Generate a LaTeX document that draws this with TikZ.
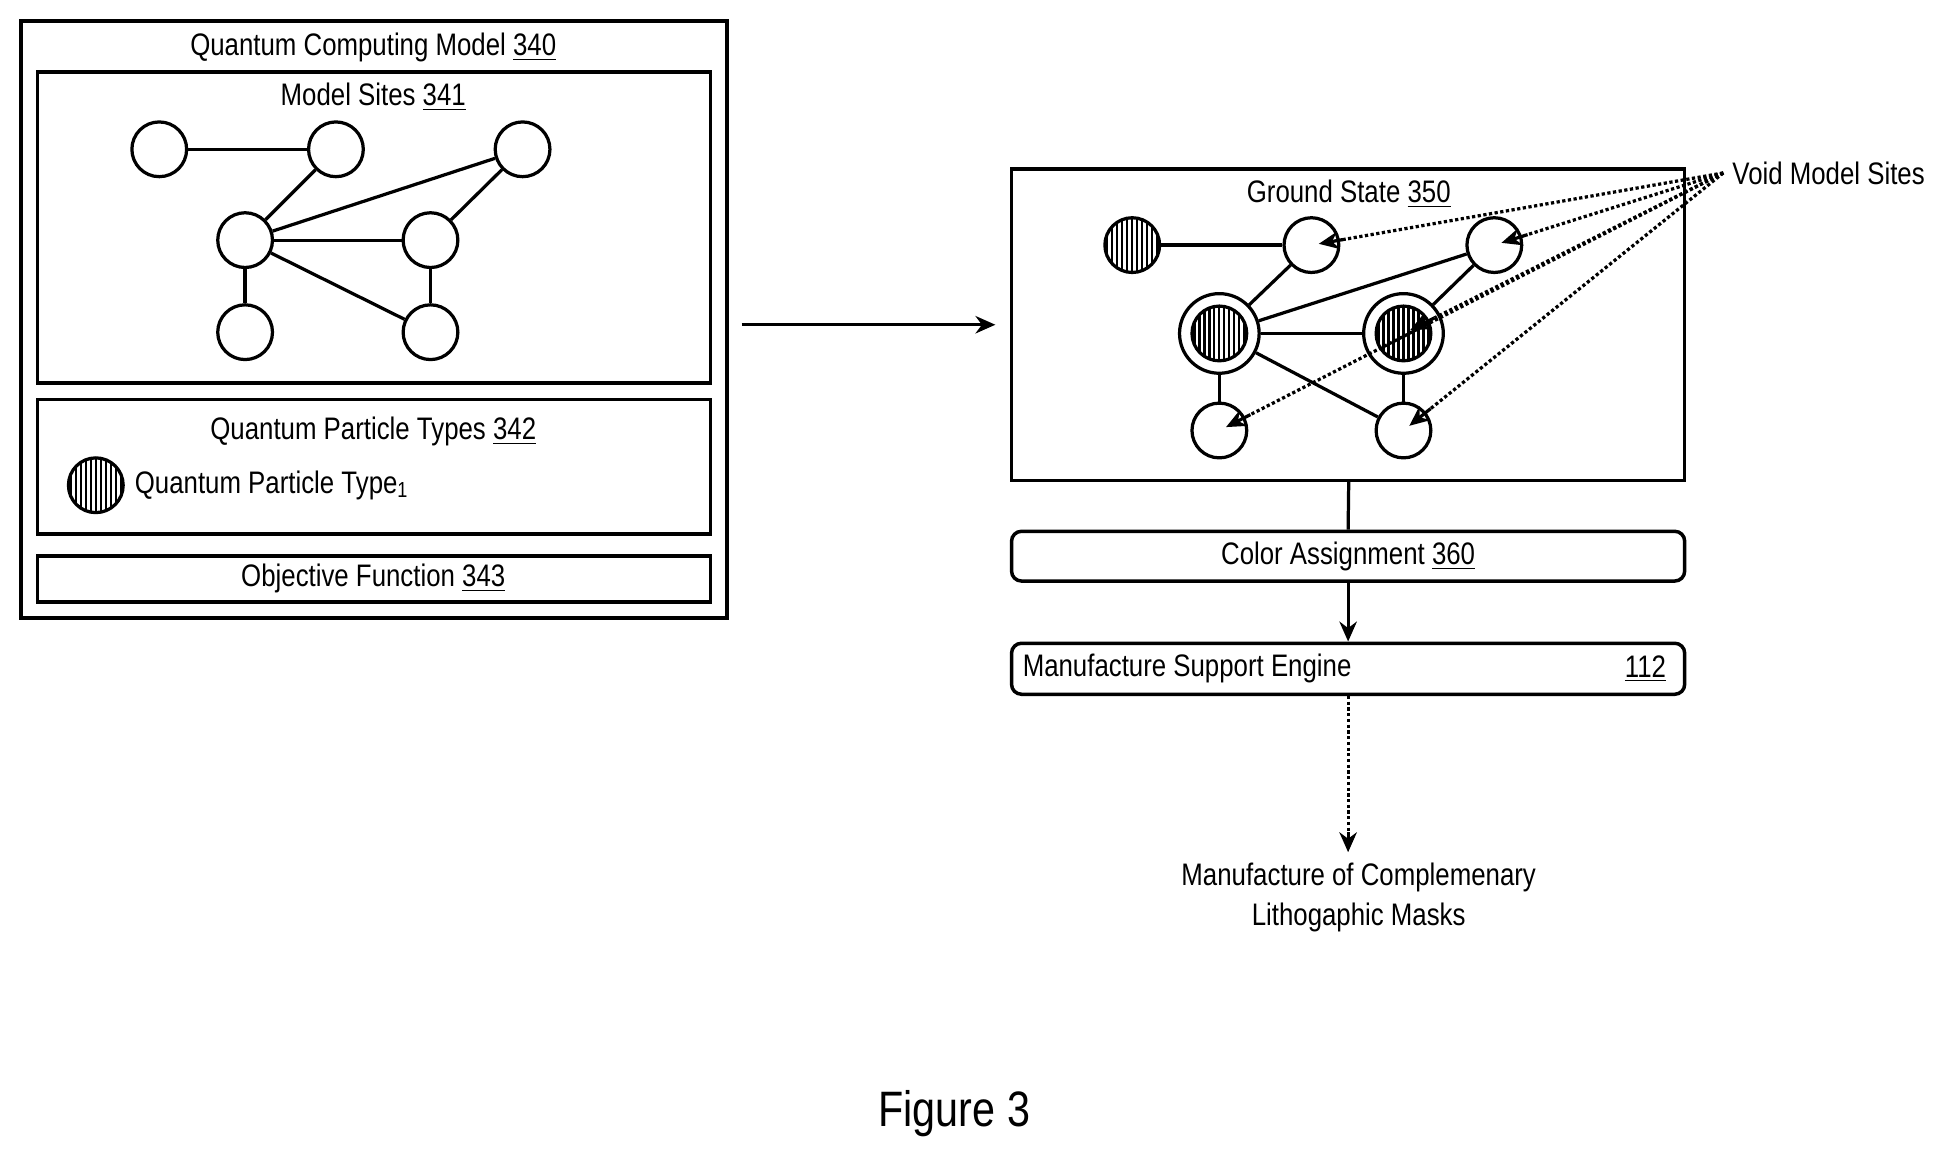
\documentclass[tikz,border=0pt]{standalone}
\usepackage{fontspec}
\setmainfont{Liberation Sans}[FakeStretch=0.83]
\usetikzlibrary{arrows.meta,positioning,calc}
\tikzset{
    % frames and boxes
    frame/.style={draw, line width=1.4pt},
    rbox/.style={draw, line width=1.4pt, rounded corners=4pt},
    % model sites
    site/.style={circle, draw, line width=1.3pt, minimum size=22pt, inner sep=0pt},
    hatched/.style={site, path picture={
        \foreach \i in {-10,-8,...,10}
            \draw[line width=0.9pt] ([xshift=\i pt]path picture bounding box.south) -- ([xshift=\i pt]path picture bounding box.north);}},
    shell/.style={circle, draw, line width=1.3pt, minimum size=32pt, inner sep=0pt},
    bond/.style={line width=1.3pt},
    tip/.style={solid, line width=1.3pt, -{Stealth[length=8pt,width=7pt]}},
    lbl/.style={font=\fontsize{12.5}{14}\selectfont, inner sep=0pt}
}
\begin{document}
\begin{tikzpicture}[x=0.5pt,y=-0.5pt]
\useasboundingbox (0,0) rectangle (1560,930);

% Quantum computing model
\draw[frame, line width=1.6pt] (17,17) rectangle (584,497);
\node[lbl] (qcm) at (300,38) {Quantum Computing Model \underline{340}};
\draw[frame] (30,58) rectangle (571,308);
\node[lbl] (ms) at (300,78) {Model Sites \underline{341}};
\node[site] (a) at (128,120) {};
\node[site] (b) at (270,120) {};
\node[site] (c) at (420,120) {};
\node[site] (d) at (197,193) {};
\node[site] (e) at (346,193) {};
\node[site] (f) at (197,267) {};
\node[site] (g) at (346,267) {};
\draw[bond] (a) -- (b);
\draw[bond] (b) -- (d);
\draw[bond] (d) -- (c);
\draw[bond] (c) -- (e);
\draw[bond] (d) -- (e);
\draw[bond] (d) -- (f);
\draw[bond] (d) -- (g);
\draw[bond] (e) -- (g);

\draw[frame] (30,321) rectangle (571,429);
\node[lbl] (qpt) at (300,347) {Quantum Particle Types \underline{342}};
\node[hatched] (p1) at (77,390) {};
\node[lbl, anchor=west] (p1lbl) at (108,390) {Quantum Particle Type\textsubscript{1}};
\draw[frame] (30,447) rectangle (571,484);
\node[lbl] (obj) at (300,465) {Objective Function \underline{343}};

% transition
\coordinate (from) at (596,261);
\coordinate (to) at (800,261);
\draw[tip] (from) -- (to);

% Ground state
\draw[frame] (813,136) rectangle (1354,386);
\node[lbl] (gs) at (1084,156) {Ground State \underline{350}};
\node[hatched] (h) at (910,197) {};
\node[site] (i) at (1054,197) {};
\node[site] (j) at (1201,197) {};
\node[shell] (k) at (980,268) {};
\node[hatched] at (k) {};
\node[shell] (l) at (1128,268) {};
\node[hatched] at (l) {};
\node[site] (m) at (980,346) {};
\node[site] (n) at (1128,346) {};
\draw[bond] (h) -- (i);
\draw[bond] (i) -- (k);
\draw[bond] (k) -- (j);
\draw[bond] (j) -- (l);
\draw[bond] (k) -- (l);
\draw[bond] (k) -- (m);
\draw[bond] (k) -- (n);
\draw[bond] (l) -- (n);

\node[lbl, anchor=west] (vms) at (1392,139) {Void Model Sites};
\coordinate (vsrc) at (1385,139);
\foreach \t in {i,j,l,m,n} {
    \draw[densely dotted, line width=1.3pt] (vsrc) -- ($(\t.center)!14pt!(vsrc)$) coordinate (s\t);
    \draw[tip] (s\t) -- ($(\t.center)!3pt!(vsrc)$);
}

% downstream
\node[rbox, minimum width=270.5pt, minimum height=20pt] (ca) at (1083.5,447) {};
\node[lbl] at (ca) {Color Assignment \underline{360}};
\draw[line width=1.3pt] (1084,386) -- (ca.north);
\node[rbox, minimum width=270.5pt, minimum height=20.5pt] (mse) at (1083.5,537.5) {};
\node[lbl, anchor=west] at ([xshift=5pt]mse.west) {Manufacture Support Engine};
\node[lbl, anchor=east] at ([xshift=-8pt]mse.east) {\underline{112}};
\draw[tip] (ca) -- (mse);
\node[lbl, align=center, font=\fontsize{12.5}{16}\selectfont] (masks) at (1092,721) {Manufacture of Complemenary\\Lithogaphic Masks};
\coordinate (mend) at ([yshift=4pt]masks.north -| mse);
\draw[densely dotted, line width=1.3pt] (mse) -- ([yshift=8pt]mend);
\draw[tip] ([yshift=8pt]mend) -- (mend);

\node[inner sep=0pt, font=\fontsize{20}{24}\selectfont] (fig) at (767,895) {Figure 3};
\end{tikzpicture}
\end{document}
